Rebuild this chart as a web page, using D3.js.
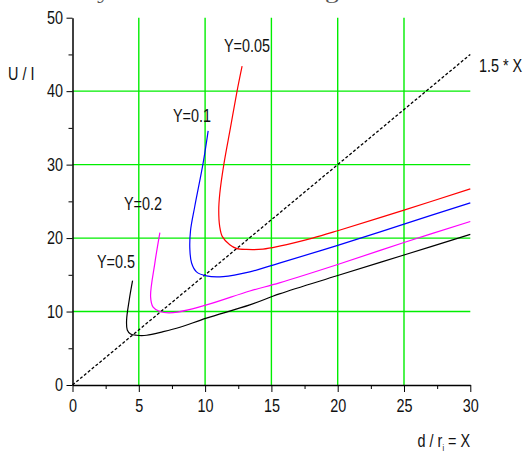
<!DOCTYPE html>
<html lang="en">
<head>
<meta charset="UTF-8">
<title>U / I versus d / r</title>
<script src="https://cdn.jsdelivr.net/npm/d3@7"></script>
<style>
    body { margin: 0; background: #fff; }
    svg { display: block; }
    .lbl { font-family: "Liberation Sans", Arial, sans-serif; font-size: 18px; fill: #111; }
    .grid line { stroke: #00ee00; stroke-width: 1.4px; }
    .curve { fill: none; stroke-width: 1.2px; }
</style>
</head>
<body>
<svg id="main" width="524" height="452"></svg>
<script>
// ticks
var xTicks = [0, 5, 10, 15, 20, 25, 30];
var xMinor = [2.5, 7.5, 12.5, 17.5, 22.5, 27.5];
var yTicks = [0, 10, 20, 30, 40, 50];
var yMinor = [5, 15, 25, 35, 45];

// curve names
var names = ["Y=0.05", "Y=0.1", "Y=0.2", "Y=0.5"];

// Y=0.05 (red)
var x005 = [12.79, 12.41, 11.91, 11.41, 11.11, 11.03, 11.1, 11.3, 11.86, 12.36, 13.12, 14.37, 15.6, 18.1, 20.0, 25.0, 30.0];
var u005 = [43.4, 40.0, 35.0, 30.0, 26.1, 23.8, 21.6, 20.2, 19.1, 18.6, 18.45, 18.5, 18.9, 20.0, 21.0, 23.8, 26.7];
// Y=0.1 (blue)
var x01 = [10.23, 9.85, 9.22, 8.9, 8.85, 8.98, 9.35, 10.1, 11.36, 13.37, 15.6, 20.0, 25.0, 30.0];
var u01 = [34.6, 30.2, 24.3, 21.0, 18.5, 16.6, 15.4, 14.85, 14.75, 15.4, 16.6, 19.0, 21.9, 24.8];
// Y=0.2 (magenta)
var x02 = [6.59, 6.21, 5.89, 6.08, 6.59, 7.59, 10.1, 13.37, 15.6, 20.0, 25.0, 30.0];
var u02 = [20.75, 16.6, 12.0, 10.6, 10.0, 9.85, 10.9, 12.8, 13.9, 16.4, 19.4, 22.25];
// Y=0.5 (black)
var x05 = [4.53, 4.28, 4.08, 4.13, 4.38, 4.83, 5.59, 6.84, 8.1, 10.1, 13.37, 15.6, 20.0, 25.0, 30.0];
var u05 = [14.2, 11.6, 8.85, 7.5, 6.95, 6.77, 6.77, 7.26, 7.86, 9.1, 10.9, 12.4, 14.9, 17.7, 20.5];

// reference line 1.5 * X
var refX = [0, 30];
var refU = [0, 45];

var svg = d3.select("#main");
var x = d3.scaleLinear().domain([0, 30]).range([72.5, 470.3]);
var y = d3.scaleLinear().domain([0, 50]).range([385, 17.7]);

var colors = ["#ff0000", "#0000ff", "#ff00ff", "#000000"];
var xs = [x005, x01, x02, x05], us = [u005, u01, u02, u05];

// cut-off line of text above the chart
svg.append("text")
    .attr("x", 7).attr("y", -2)
    .attr("textLength", 383).attr("lengthAdjust", "spacingAndGlyphs")
    .style("font-family", "'Liberation Serif', 'Times New Roman', serif")
    .style("font-size", "20px").style("fill", "#555")
    .text("relatively moved curves along axis");

// grid
var grid = svg.append("g").attr("class", "grid");
grid.selectAll(".gv").data(xTicks.slice(1, -1)).enter().append("line")
    .attr("x1", d => x(d)).attr("x2", d => x(d))
    .attr("y1", y(0)).attr("y2", y(50));
grid.selectAll(".gh").data(yTicks.slice(1, -1)).enter().append("line")
    .attr("y1", d => y(d)).attr("y2", d => y(d))
    .attr("x1", x(0)).attr("x2", x(30));

var line = d3.line().x(d => x(d[0])).y(d => y(d[1]));

svg.append("path")
    .datum(d3.zip(refX, refU))
    .attr("d", line)
    .attr("fill", "none").attr("stroke", "#000")
    .attr("stroke-width", 1.3).attr("stroke-dasharray", "3,2");

var smooth = d3.line().x(d => x(d[0])).y(d => y(d[1])).curve(d3.curveCatmullRom.alpha(0.5));
names.forEach(function(n, i) {
    svg.append("path").attr("class", "curve")
        .datum(d3.zip(xs[i], us[i]))
        .attr("d", smooth)
        .attr("stroke", colors[i]);
});

// axes
function squeeze(g) {
    g.selectAll("text").attr("class", "lbl").attr("transform", "scale(0.8,1)")
        .attr("font-family", null).attr("font-size", null);
    g.selectAll("line, path").attr("stroke", "#000");
    g.select(".domain").attr("stroke-width", 1.5);
}
svg.append("g").attr("transform", "translate(" + x(0) + ",0)")
    .call(d3.axisLeft(y).tickValues(yMinor).tickSize(4).tickSizeOuter(0).tickFormat(""))
    .call(g => g.select(".domain").remove())
    .selectAll("line").attr("stroke", "#000");
svg.append("g").attr("transform", "translate(0," + y(0) + ")")
    .call(d3.axisBottom(x).tickValues(xMinor).tickSize(4).tickSizeOuter(0).tickFormat(""))
    .call(g => g.select(".domain").remove())
    .selectAll("line").attr("stroke", "#000");
svg.append("g").attr("transform", "translate(" + x(0) + ",0)")
    .call(d3.axisLeft(y).tickValues(yTicks).tickSize(6).tickSizeOuter(0).tickPadding(6))
    .call(squeeze);
svg.append("g").attr("transform", "translate(0," + y(0) + ")")
    .call(d3.axisBottom(x).tickValues(xTicks).tickSize(7).tickSizeOuter(0).tickPadding(7))
    .call(squeeze);

// text labels
function label(px, py, anchor, txt) {
    var t = svg.append("text").attr("class", "lbl")
        .attr("transform", "translate(" + px + "," + py + ") scale(0.8,1)")
        .attr("text-anchor", anchor);
    return t.text(txt);
}
label(8, 80, "start", "U / I");
label(479, 72, "start", "1.5 * X");
var labelPos = [[224, 52], [173, 122], [124, 210], [97, 268]];
names.forEach(function(n, i) {
    label(labelPos[i][0], labelPos[i][1], "start", n);
});
// d / r_i = X
var xl = svg.append("text").attr("class", "lbl")
    .attr("transform", "translate(470,447) scale(0.8,1)")
    .attr("text-anchor", "end");
xl.append("tspan").text("d / r");
xl.append("tspan").attr("dy", 4).style("font-size", "9px").text("i");
xl.append("tspan").attr("dy", -4).text(" = X");
</script>
</body>
</html>
